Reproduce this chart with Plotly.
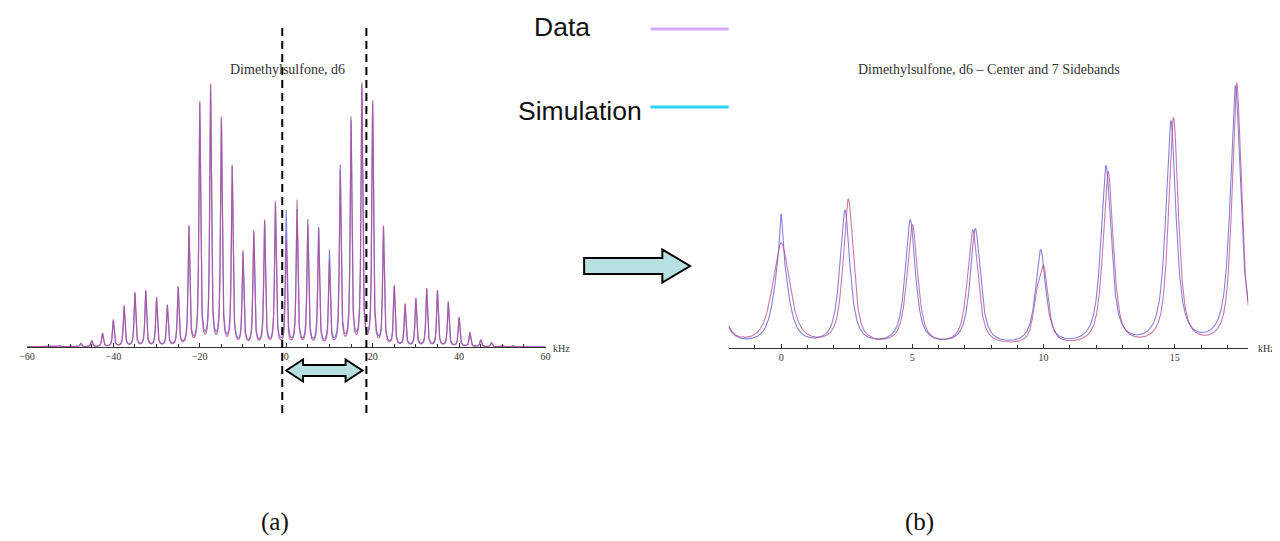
import numpy as np
import plotly.graph_objects as go

# ---------------- data ----------------
# Panel (a): full sideband manifold, kHz
left_pos = [-52.5, -50.0, -47.5, -45.0, -42.5, -40.0, -37.5, -35.0, -32.5, -30.0,
            -27.5, -25.0, -22.5, -20.0, -17.5, -15.0, -12.5, -10.0, -7.5, -5.0,
            -2.5, 0.0, 2.5, 5.0, 7.5, 10.0, 12.5, 15.0, 17.5, 20.0,
            22.5, 25.0, 27.5, 30.0, 32.5, 35.0, 37.5, 40.0, 42.5, 45.0,
            47.5, 50.0, 52.5]
left_data_h = [1.5, 1.0, 3.5, 6.5, 14, 27, 41, 54, 56, 49,
               41, 59, 119, 243, 260, 227, 179, 94, 115, 125,
               144, 104, 145, 120, 116, 84, 174, 227, 261, 244,
               119, 60, 42, 48, 58, 56, 45, 29, 14.5, 7,
               4, 1.5, 1.5]
left_sim_h = [1.5, 1.0, 3.5, 6, 13, 26, 40, 53, 55, 47,
              40, 58, 118, 240, 257, 224, 178, 91, 112, 123,
              140, 134, 135, 125, 117, 94, 179, 223, 258, 240,
              117, 59, 41, 47, 57, 55, 44, 29, 14, 7,
              4, 1.5, 1.5]

# Panel (b): center and 7 sidebands (plus neighbours at the edges)
right_data_pos = [-2.5, 0.0, 2.56, 5.0, 7.3, 9.72, 10.0, 12.46, 14.95, 17.36, 19.9]
right_data_h = [144, 103, 145.6, 120.3, 115.6, 30, 74, 174, 227.3, 261.6, 244]
right_data_w = [0.45, 0.78, 0.46, 0.48, 0.48, 0.3, 0.42, 0.46, 0.44, 0.42, 0.44]
right_sim_pos = [-2.55, 0.0, 0.0, 2.43, 4.92, 7.4, 9.89, 12.38, 14.85, 17.31, 19.8]
right_sim_h = [144, 92, 40, 135, 125.6, 116.6, 95, 179, 223.3, 258.3, 244]
right_sim_w = [0.46, 0.62, 0.12, 0.46, 0.46, 0.46, 0.46, 0.46, 0.46, 0.46, 0.46]

left_ticks = [-60, -40, -20, 0, 20, 40, 60]
right_ticks = [0, 5, 10, 15]

# ---------------- line shapes ----------------
def lorentz(x, x0, h, fwhm):
    g = fwhm / 2.0
    return h * g * g / ((x - x0) ** 2 + g * g)

def pvoigt(x, x0, h, fwhm, eta):
    s = fwhm / 2.3548
    return eta * lorentz(x, x0, h, fwhm) + (1 - eta) * h * np.exp(-(x - x0) ** 2 / (2 * s * s))

ETA_DATA, ETA_SIM = 0.75, 0.85

xl = np.linspace(-60, 60, 6001)
left_sim = sum(pvoigt(xl, p, h, 0.46, ETA_SIM) for p, h in zip(left_pos, left_sim_h))
left_data = sum(pvoigt(xl, p, h, 0.44, ETA_DATA) for p, h in zip(left_pos, left_data_h))

xr = np.linspace(-2, 17.8, 2400)
right_sim = sum(pvoigt(xr, p, h, w, ETA_SIM) for p, h, w in zip(right_sim_pos, right_sim_h, right_sim_w))
right_data = sum(pvoigt(xr, p, h, w, ETA_DATA) for p, h, w in zip(right_data_pos, right_data_h, right_data_w))

SIM_COL = "rgba(100,100,210,0.8)"
DATA_COL = "rgba(180,75,145,0.75)"

# page body has an 8px margin; size the figure to fill the rest of the window
OFF = 8
W, H = 1280 - OFF, 541 - OFF
def px(x):
    return (x - OFF) / W
def py(y):
    return 1 - (y - OFF) / H

fig = go.Figure()
fig.add_trace(go.Scatter(x=xl, y=left_sim, mode="lines", line=dict(color=SIM_COL, width=1.2),
                         xaxis="x", yaxis="y", showlegend=False, hoverinfo="skip"))
fig.add_trace(go.Scatter(x=xl, y=left_data, mode="lines", line=dict(color=DATA_COL, width=1.2),
                         xaxis="x", yaxis="y", showlegend=False, hoverinfo="skip"))
fig.add_trace(go.Scatter(x=xr, y=right_sim, mode="lines", line=dict(color=SIM_COL, width=1.1),
                         xaxis="x2", yaxis="y2", showlegend=False, hoverinfo="skip"))
fig.add_trace(go.Scatter(x=xr, y=right_data, mode="lines", line=dict(color=DATA_COL, width=1.1),
                         xaxis="x2", yaxis="y2", showlegend=False, hoverinfo="skip"))

tickfont = dict(family="Liberation Serif", size=10, color="#333333")
axis_common = dict(showline=True, linecolor="#333333", linewidth=1, showgrid=False, zeroline=False,
                   ticks="inside", ticklen=4, tickcolor="#333333", tickfont=tickfont)

fig.update_layout(
    width=W, height=H, margin=dict(l=0, r=0, t=0, b=0),
    paper_bgcolor="white", plot_bgcolor="rgba(0,0,0,0)",
    xaxis=dict(domain=[px(19), px(543)], range=[-60, 60], tickvals=left_ticks,
               minor=dict(dtick=5, tick0=0, ticks="inside", ticklen=3, tickcolor="#333333"),
               anchor="y", **axis_common),
    yaxis=dict(domain=[py(347), py(47)], range=[0, 300], visible=False, anchor="x"),
    xaxis2=dict(domain=[px(728), px(1253)], range=[-2, 17.8], tickvals=right_ticks,
                minor=dict(dtick=1, tick0=0, ticks="inside", ticklen=3, tickcolor="#333333"),
                anchor="y2", **axis_common),
    yaxis2=dict(domain=[py(348), py(48)], range=[0, 300], visible=False, anchor="x2"),
)

ann = []
def text(x, y, s, size, family="Liberation Serif", color="#222222", xanchor="center"):
    ann.append(dict(x=px(x), y=py(y), xref="paper", yref="paper", text=s, showarrow=False,
                    xanchor=xanchor, yanchor="middle", font=dict(family=family, size=size, color=color)))

text(282, 69, "Dimethylsulfone, d6", 14, color="#333333")
text(991, 69, "Dimethylsulfone, d6 \u2013 Center and 7 Sidebands", 14, color="#333333")
text(549, 349, "kHz", 10, color="#333333", xanchor="left")
text(1261, 348, "kHz", 10, color="#333333", xanchor="left")
text(560, 27, "Data", 26.5, family="Liberation Sans", color="#111111")
text(578, 111, "Simulation", 26.5, family="Liberation Sans", color="#111111")
text(270, 522, "(a)", 25, color="#111111")
text(921, 522, "(b)", 25, color="#111111")
fig.update_layout(annotations=ann)

shapes = []
# legend swatches
shapes.append(dict(type="line", xref="paper", yref="paper", x0=px(649), x1=px(728), y0=py(29), y1=py(29),
                   line=dict(color="#d6a8f5", width=3)))
shapes.append(dict(type="line", xref="paper", yref="paper", x0=px(649), x1=px(728), y0=py(107), y1=py(107),
                   line=dict(color="#2bd3f7", width=3)))
# dashed markers
for xv in (277, 362):
    shapes.append(dict(type="line", xref="paper", yref="paper", x0=px(xv), x1=px(xv), y0=py(28), y1=py(418),
                       line=dict(color="black", width=2, dash="8px,5px")))

def poly(points):
    d = "M " + " L ".join(f"{px(a):.5f},{py(b):.5f}" for a, b in points) + " Z"
    return dict(type="path", xref="paper", yref="paper", path=d, fillcolor="#b7e0e0",
                line=dict(color="black", width=2))

shapes.append(poly([(582, 258), (661, 258), (661, 249.5), (689, 266), (661, 282.5), (661, 274), (582, 274)]))
shapes.append(poly([(281, 370.5), (298, 359.5), (298, 365), (341, 365), (341, 359.5), (358, 370.5),
                    (341, 381.5), (341, 376), (298, 376), (298, 381.5)]))
fig.update_layout(shapes=shapes)

fig.write_html("out.html")
